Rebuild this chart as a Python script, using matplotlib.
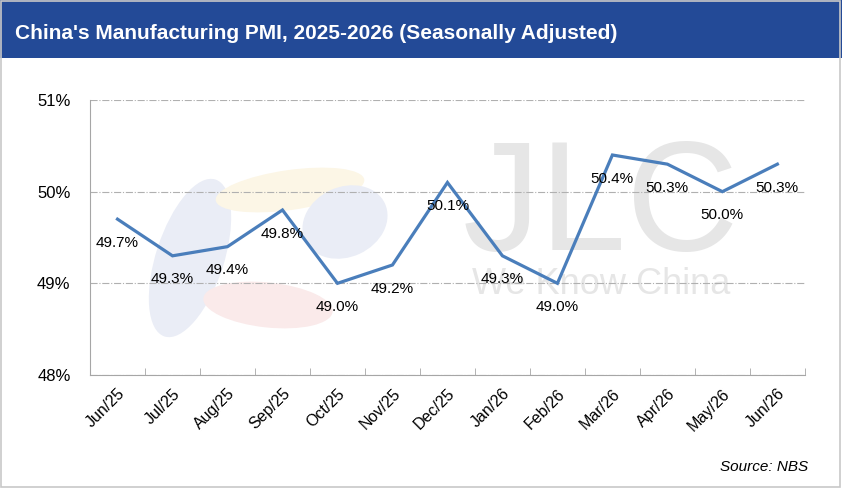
import matplotlib.pyplot as plt
from matplotlib.patches import Rectangle, Ellipse
from matplotlib.ticker import FixedLocator, FuncFormatter

months = ['Jun/25', 'Jul/25', 'Aug/25', 'Sep/25', 'Oct/25', 'Nov/25', 'Dec/25',
          'Jan/26', 'Feb/26', 'Mar/26', 'Apr/26', 'May/26', 'Jun/26']
pmi = [49.7, 49.3, 49.4, 49.8, 49.0, 49.2, 50.1, 49.3, 49.0, 50.4, 50.3, 50.0, 50.3]
y_ticks = [48, 49, 50, 51]

plt.rcParams['font.family'] = ['Liberation Sans', 'DejaVu Sans']

fig = plt.figure(figsize=(8.42, 4.88), dpi=100)
H = 488

# blue title banner + outer border
fig.patches.append(Rectangle((0, 0.881), 1, 0.119, transform=fig.transFigure,
                             facecolor='#234A97', edgecolor='none', zorder=0))
fig.patches.append(Rectangle((0.001, 0.002), 0.997, 0.996, transform=fig.transFigure,
                             facecolor='none', edgecolor='#c8c8c8', lw=1.2, zorder=5))
fig.text(0.018, 0.932, "China's Manufacturing PMI, 2025-2026 (Seasonally Adjusted)",
         color='white', fontsize=15, fontweight='bold', va='center', ha='left')
fig.text(0.96, 0.043, 'Source: NBS', fontsize=11, style='italic', ha='right', va='center')

ax = fig.add_axes([0.1069, 0.2316, 0.849, 0.5635])
x = list(range(len(months)))

# faint logo watermark (pixel positions -> inches)
for (cx, cy, w, h, ang, col) in [(190, 258, 68, 165, -18, '#eaedf6'),
                                  (290, 190, 150, 40, 8, '#fcf6e6'),
                                  (268, 305, 130, 45, -6, '#faeaea'),
                                  (345, 222, 88, 70, 25, '#eaedf6')]:
    ax.add_patch(Ellipse((cx / 100, (H - cy) / 100), w / 100, h / 100, angle=ang,
                         transform=fig.dpi_scale_trans, facecolor=col,
                         edgecolor='none', zorder=0))
ax.text(0.715, 0.60, 'JLC', transform=ax.transAxes, fontsize=112, color='#e6e6e6',
        ha='center', va='center', zorder=0)
ax.text(0.715, 0.33, 'We Know China', transform=ax.transAxes, fontsize=26, color='#e6e6e6',
        ha='center', va='center', zorder=0)

ax.plot(x, pmi, color='#4A7EBB', lw=2.3, zorder=3, solid_joinstyle='miter')
for xi, v in zip(x, pmi):
    ax.annotate(f'{v:.1f}%', (xi, v), xytext=(0, -12), textcoords='offset points',
                ha='center', va='top', fontsize=11, zorder=4)

ax.set_xlim(-0.5, len(months) - 0.5)
ax.set_ylim(48, 51)
ax.set_yticks(y_ticks)
ax.yaxis.set_major_formatter(FuncFormatter(lambda v, p: f'{v:.0f}%'))
ax.grid(axis='y', color='#b0b0b0', ls='-.', lw=0.8)
ax.set_axisbelow(True)

ax.set_xticks(x)
ax.set_xticklabels(months, rotation=45, ha='right', rotation_mode='anchor', fontsize=11.5)
ax.xaxis.set_minor_locator(FixedLocator([i - 0.5 for i in range(len(months) + 1)]))
ax.tick_params(axis='x', which='major', length=0, pad=8)
ax.tick_params(axis='x', which='minor', length=5, direction='in', color='#a6a6a6')
ax.tick_params(axis='y', length=0, labelsize=12, pad=14)

for s in ['top', 'right']:
    ax.spines[s].set_visible(False)
for s in ['left', 'bottom']:
    ax.spines[s].set_color('#a6a6a6')

fig.savefig('out.png', dpi=100)
